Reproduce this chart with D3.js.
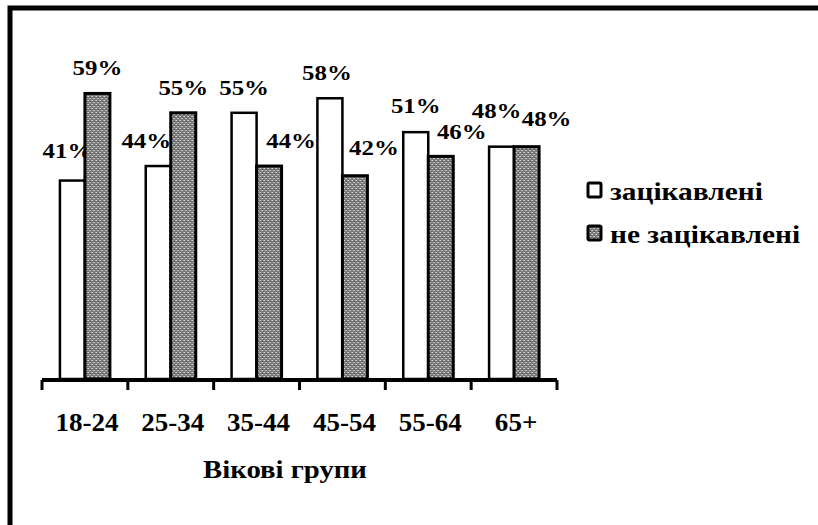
<!DOCTYPE html>
<html lang="uk">
	<head>
		<meta charset="utf-8">
		<title>Вікові групи</title>
		<style type="text/css">
			body {
				margin: 0;
				background-color: white;
			}
			.frame {
				fill: none;
				stroke: black;
				stroke-width: 5;
			}
			.axis-line {
				stroke: black;
				stroke-width: 4;
			}
			.tick-line {
				stroke: black;
				stroke-width: 3;
			}
		</style>
	</head>
	<body>
		<script src="https://cdnjs.cloudflare.com/ajax/libs/d3/7.8.5/d3.min.js"></script>
		<script type="text/javascript">

		// data
		var groups = ["18-24", "25-34", "35-44", "45-54", "55-64", "65+"];
		var interested = [41, 44, 55, 58, 51, 48];
		var notInterested = [59, 55, 44, 42, 46, 48];
		var seriesNames = ["зацікавлені", "не зацікавлені"];
		var axisTitle = "Вікові групи";

		// label nudges (dx, dy) so the value labels sit like in the original
		var shiftWhite = [[-5, -5], [-12, 0], [0, 0], [-3, 0], [0, -1], [-5, -11]];
		var shiftDark = [[0, 0], [0, 0], [22, 0], [19, -3], [21, 1], [20, -3]];

		var fontFam = "'Liberation Serif', 'Times New Roman', serif";

		var fullwidth = 818;
		var fullheight = 525;

		var svg = d3.select("body")
			.append("svg")
			.attr("width", fullwidth)
			.attr("height", fullheight)
			.style("font-family", fontFam);

		// halftone grey for the second series
		var defs = svg.append("defs");
		var pat = defs.append("pattern")
			.attr("id", "halftone")
			.attr("patternUnits", "userSpaceOnUse")
			.attr("width", 4)
			.attr("height", 4);
		pat.append("rect").attr("width", 4).attr("height", 4).attr("fill", "#7a7a7a");
		pat.append("rect").attr("x", 0).attr("y", 0).attr("width", 1).attr("height", 1).attr("fill", "#d8d8d8");
		pat.append("rect").attr("x", 2).attr("y", 2).attr("width", 1).attr("height", 1).attr("fill", "#d8d8d8");
		pat.append("rect").attr("x", 1).attr("y", 2).attr("width", 1).attr("height", 1).attr("fill", "#b0b0b0");
		pat.append("rect").attr("x", 3).attr("y", 0).attr("width", 1).attr("height", 1).attr("fill", "#b0b0b0");
		pat.append("rect").attr("x", 2).attr("y", 1).attr("width", 1).attr("height", 1).attr("fill", "#444");

		// frame (only top and left edges show in the crop)
		svg.append("path")
			.attr("class", "frame")
			.attr("d", "M10,530 L10,8 L830,8");

		var xScale = d3.scaleBand()
			.domain(groups)
			.range([42, 557])
			.padding(0);

		var yScale = d3.scaleLinear()
			.domain([0, 60])
			.range([379, 379 - 60 * 4.84]);

		var barW = 25;

		var rows = groups.map(function(g, i) {
			return { group: g, a: interested[i], b: notInterested[i], i: i };
		});

		function center(d) {
			return xScale(d.group) + xScale.bandwidth() / 2;
		}

		function boldText(sel, size) {
			return sel.style("font-family", fontFam)
				.style("font-weight", "bold")
				.style("font-size", size + "px")
				.attr("fill", "black");
		}

		// value labels first, so the bars cover them where they overlap
		var labels = svg.append("g");

		labels.selectAll("text.lw")
			.data(rows)
			.enter()
			.append("text")
			.attr("class", "lw")
			.attr("text-anchor", "middle")
			.call(boldText, 22)
			.attr("transform", function(d) {
				var x = center(d) - barW / 2 + shiftWhite[d.i][0];
				var y = yScale(d.a) - 18 + shiftWhite[d.i][1];
				return "translate(" + x + "," + y + ") scale(1.13,1)";
			})
			.text(function(d) { return d.a + "%"; });

		labels.selectAll("text.ld")
			.data(rows)
			.enter()
			.append("text")
			.attr("class", "ld")
			.attr("text-anchor", "middle")
			.call(boldText, 22)
			.attr("transform", function(d) {
				var x = center(d) + barW / 2 + shiftDark[d.i][0];
				var y = yScale(d.b) - 18 + shiftDark[d.i][1];
				return "translate(" + x + "," + y + ") scale(1.13,1)";
			})
			.text(function(d) { return d.b + "%"; });

		// bars
		var bars = svg.append("g");

		bars.selectAll("rect.white")
			.data(rows)
			.enter()
			.append("rect")
			.attr("class", "white")
			.attr("x", function(d) { return center(d) - barW; })
			.attr("y", function(d) { return yScale(d.a); })
			.attr("width", barW)
			.attr("height", function(d) { return yScale(0) - yScale(d.a); })
			.attr("fill", "white")
			.attr("stroke", "black")
			.attr("stroke-width", 2.5);

		bars.selectAll("rect.dark")
			.data(rows)
			.enter()
			.append("rect")
			.attr("class", "dark")
			.attr("x", function(d) { return center(d); })
			.attr("y", function(d) { return yScale(d.b); })
			.attr("width", barW)
			.attr("height", function(d) { return yScale(0) - yScale(d.b); })
			.attr("fill", "url(#halftone)")
			.attr("stroke", "black")
			.attr("stroke-width", 3);

		// category axis
		var axisY = yScale(0) + 1;
		var edges = d3.range(groups.length + 1).map(function(k) {
			return xScale.range()[0] + k * xScale.step();
		});

		svg.append("line")
			.attr("class", "axis-line")
			.attr("x1", xScale.range()[0])
			.attr("x2", xScale.range()[1])
			.attr("y1", axisY)
			.attr("y2", axisY);

		svg.selectAll("line.tick-line")
			.data(edges)
			.enter()
			.append("line")
			.attr("class", "tick-line")
			.attr("x1", function(d) { return d; })
			.attr("x2", function(d) { return d; })
			.attr("y1", axisY)
			.attr("y2", axisY + 10);

		svg.selectAll("text.cat")
			.data(groups)
			.enter()
			.append("text")
			.attr("class", "cat")
			.attr("text-anchor", "middle")
			.call(boldText, 26)
			.attr("transform", function(d) {
				return "translate(" + (xScale(d) + xScale.bandwidth() / 2 + 2) + ",431) scale(1.04,1)";
			})
			.text(function(d) { return d; });

		svg.append("text")
			.attr("text-anchor", "middle")
			.call(boldText, 25)
			.attr("transform", "translate(285,478) scale(1.15,1)")
			.text(axisTitle);

		// legend
		var legend = svg.selectAll("g.legend")
			.data(seriesNames)
			.enter()
			.append("g")
			.attr("class", "legend")
			.attr("transform", function(d, i) {
				return "translate(588," + (183 + i * 43) + ")";
			});

		legend.append("rect")
			.attr("width", 13)
			.attr("height", 14)
			.attr("rx", 1.5)
			.attr("fill", function(d, i) { return i === 0 ? "white" : "url(#halftone)"; })
			.attr("stroke", "black")
			.attr("stroke-width", 3);

		legend.append("text")
			.call(boldText, 26)
			.attr("transform", "translate(22,17) scale(1.13,1)")
			.text(function(d) { return d; });

		</script>
	</body>
</html>
